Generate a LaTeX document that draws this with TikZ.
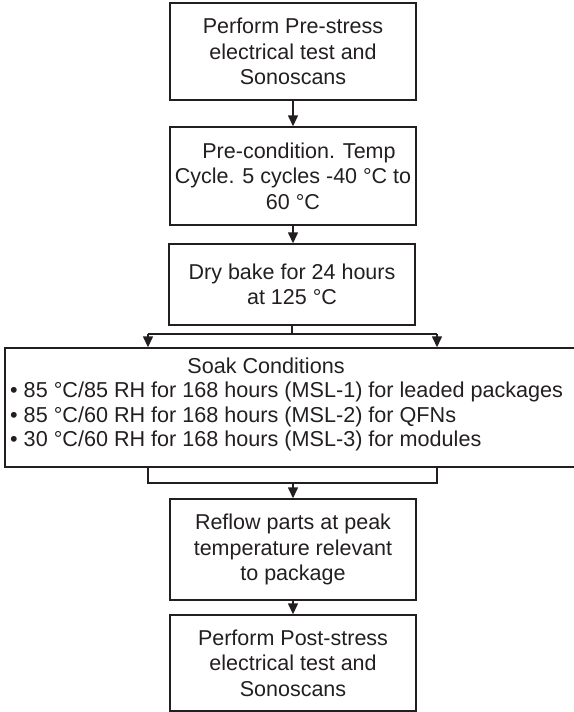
\documentclass[tikz,border=0pt]{standalone}
\usepackage{fontspec}
\setmainfont{Liberation Sans}
\usetikzlibrary{arrows.meta}
\definecolor{ink}{HTML}{231F20}
\begin{document}
\begin{tikzpicture}[x=1pt,y=-1pt,
  box/.style={draw=ink, line width=1.4pt, inner sep=0pt},
  txt/.style={align=center, text=ink, inner sep=0pt, font=\fontsize{21.5pt}{25.5pt}\selectfont},
  ltxt/.style={text=ink, inner sep=0pt, font=\fontsize{21.6pt}{25.5pt}\selectfont},
  ln/.style={draw=ink, line width=1.4pt},
  arr/.style={draw=ink, line width=1.4pt, -{Triangle[length=11pt,width=10pt]}}]
\useasboundingbox (0,0) rectangle (573,712);
% boxes
\node[box, minimum width=246pt, minimum height=97pt] (b1) at (293,51.5) {};
\node[txt] (t1) at (b1) {Perform Pre-stress\\electrical test and\\Sonoscans};
\node[box, minimum width=246pt, minimum height=98pt] (b2) at (293,176) {};
\node[txt] (t2) at (b2) {\hspace*{12pt}Pre-condition. Temp\\Cycle. 5 cycles -40 °C to\\60 °C};
\node[box, minimum width=246pt, minimum height=81pt] (b3) at (292,284.5) {};
\node[txt] (t3) at (b3) {Dry bake for 24 hours\\at 125 °C};
\node[box, minimum width=570pt, minimum height=119pt] (soak) at (290,407.5) {};
\node[ltxt, anchor=base] (st) at (266,373) {Soak Conditions};
\node[ltxt, anchor=base west] (s1) at (10,397.5) {• 85 °C/85 RH for 168 hours (MSL-1) for leaded packages};
\node[ltxt, anchor=base west] (s2) at (10,422) {• 85 °C/60 RH for 168 hours (MSL-2) for QFNs};
\node[ltxt, anchor=base west] (s3) at (10,446.5) {• 30 °C/60 RH for 168 hours (MSL-3) for modules};
\node[box, minimum width=246pt, minimum height=101pt] (b4) at (293,549.5) {};
\node[txt] (t4) at (b4) {Reflow parts at peak\\temperature relevant\\to package};
\node[box, minimum width=246pt, minimum height=96pt] (b5) at (293,663) {};
\node[txt] (t5) at (b5) {Perform Post-stress\\electrical test and\\Sonoscans};
% connectors
\draw[arr] (b1.south) -- (b2.north);
\draw[arr] (b2.south) -- (b3.north -| b2.south);
\coordinate (sL) at (148,334);
\coordinate (sR) at (437,334);
\draw[ln] (b3.south) -- (b3.south |- sL);
\draw[ln] (sL) -- (sR);
\draw[arr] (sL) -- (sL |- soak.north);
\draw[arr] (sR) -- (sR |- soak.north);
\coordinate (mL) at (148,483);
\coordinate (mR) at (437,483);
\draw[ln] (mL |- soak.south) -- (mL) -- (mR) -- (mR |- soak.south);
\draw[arr] (b4.north |- mL) -- (b4.north);
\draw[arr] (b4.south) -- (b5.north);
\end{tikzpicture}
\end{document}
